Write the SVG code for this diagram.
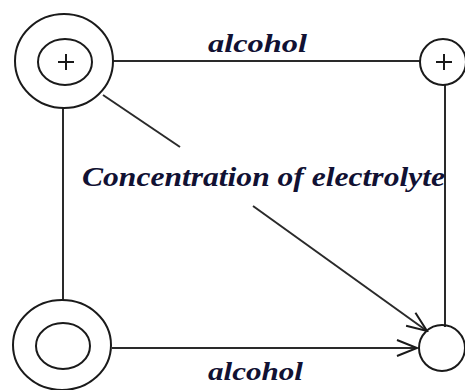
<svg xmlns="http://www.w3.org/2000/svg" width="465" height="390" viewBox="0 0 465 390">
<style>
.ln{stroke:#2a2a2a;stroke-width:2;fill:none}
.c{stroke:#1a1a1a;stroke-width:2;fill:none}
.t{font-family:"Liberation Serif","Times New Roman",serif;font-weight:bold;font-style:italic;fill:#111133}
</style>
<defs>
<marker id="arr" markerWidth="24" markerHeight="24" refX="22" refY="12" orient="auto" markerUnits="userSpaceOnUse">
<path d="M2,4 L22,12 L2,20" fill="none" stroke="#1a1a1a" stroke-width="2"/>
</marker>
</defs>
<rect width="465" height="390" fill="#ffffff"/>
<g id="connectors">
<line class="ln" x1="113" y1="61" x2="420" y2="61"/>
<line class="ln" x1="63" y1="108" x2="63" y2="300"/>
<line class="ln" x1="445" y1="85" x2="445" y2="327"/>
<line class="ln" x1="112" y1="348" x2="417" y2="348" marker-end="url(#arr)"/>
<line class="ln" x1="103" y1="95" x2="180" y2="147"/>
<line class="ln" x1="253" y1="206" x2="427" y2="331" marker-end="url(#arr)"/>
</g>
<g id="node-top-left">
<ellipse class="c" cx="64" cy="61" rx="49" ry="47"/>
<ellipse class="c" cx="65" cy="62" rx="27" ry="23"/>
<path class="c" d="M58,62 H74 M66,54 V70"/>
</g>
<g id="node-top-right">
<circle class="c" cx="443" cy="62" r="23"/>
<path class="c" d="M436,62 H452 M444,54 V70"/>
</g>
<g id="node-bottom-left">
<ellipse class="c" cx="62" cy="345" rx="49" ry="45"/>
<ellipse class="c" cx="63" cy="346" rx="27" ry="23"/>
</g>
<g id="node-bottom-right">
<circle class="c" cx="442" cy="348" r="23"/>
</g>
<g id="labels">
<text class="t" x="208" y="52" font-size="25" textLength="99" lengthAdjust="spacingAndGlyphs">alcohol</text>
<text class="t" x="208" y="380" font-size="25" textLength="95" lengthAdjust="spacingAndGlyphs">alcohol</text>
<text class="t" x="82" y="186" font-size="28" textLength="363" lengthAdjust="spacingAndGlyphs">Concentration of electrolyte</text>
</g>
</svg>
